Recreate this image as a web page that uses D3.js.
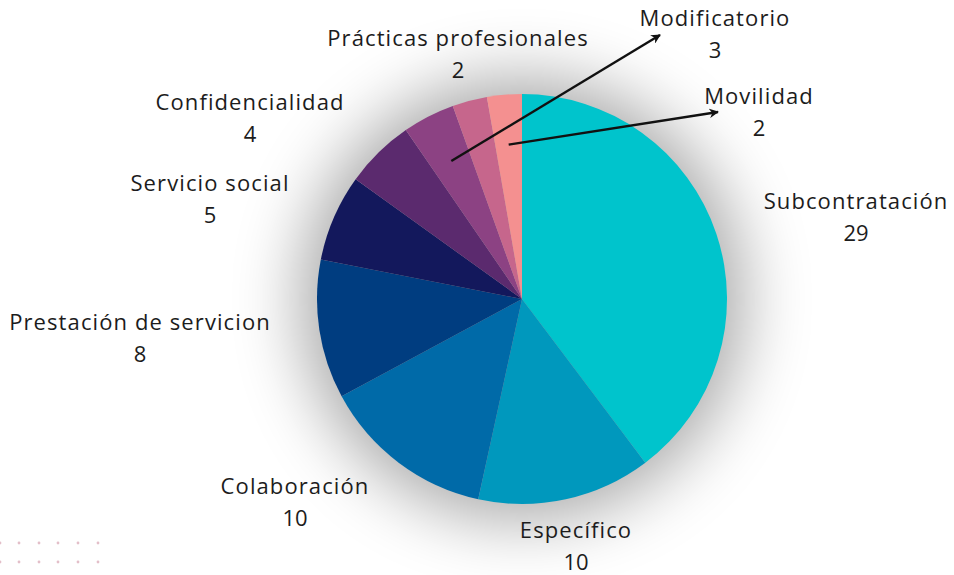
<!DOCTYPE html>
<html>
<head>
<meta charset="utf-8">
<script src="https://cdn.jsdelivr.net/npm/d3@7"></script>
<style>
  body { margin: 0; background: #ffffff; }
  text { font-family: "Open Sans", "Noto Sans", sans-serif; fill: #1c1c1c; }
</style>
</head>
<body>
<div class="chart"></div>
<script>
// Data
var categories = ["Subcontratación", "Específico", "Colaboración", "Prestación de servicion",
  "Servicio social", "Confidencialidad", "Modificatorio", "Prácticas profesionales", "Movilidad"];
var values = [29, 10, 10, 8, 5, 4, 3, 2, 2];
var colors = ["#00c4cc", "#0098bd", "#006aa8", "#003d80", "#13185c", "#5b2a6e", "#8c4283", "#c6668c", "#f49090"];

// Label placement (layout only)
var labelPos = {
  "Subcontratación": [856, 201],
  "Específico": [576, 530],
  "Colaboración": [295, 486],
  "Prestación de servicion": [140, 322],
  "Servicio social": [210, 183],
  "Confidencialidad": [250, 102],
  "Modificatorio": [715, 18],
  "Prácticas profesionales": [458, 38],
  "Movilidad": [759, 96]
};
// slices that get an arrow instead of sitting next to their label
var arrowTo = {
  "Modificatorio": [660, 35],
  "Movilidad": [718, 112]
};

var svgWidth = 954;
var svgHeight = 575;
var cx = 522, cy = 299, radius = 205;

var svg = d3.select(".chart")
  .append("svg")
  .attr("width", svgWidth)
  .attr("height", svgHeight);

var defs = svg.append("defs");
defs.append("filter")
  .attr("id", "shadow")
  .attr("x", "-50%").attr("y", "-50%")
  .attr("width", "200%").attr("height", "200%")
  .append("feGaussianBlur")
  .attr("stdDeviation", 34);

defs.append("marker")
  .attr("id", "arrow")
  .attr("viewBox", "0 0 10 10")
  .attr("refX", 9).attr("refY", 5)
  .attr("markerWidth", 4).attr("markerHeight", 4)
  .attr("orient", "auto")
  .append("path")
  .attr("d", "M0,0 L10,5 L0,10 L3,5 Z")
  .attr("fill", "#111");

// decorative dot grid bottom-left
var dotX = [0, 19, 39, 58, 78, 98];
var dotY = [543, 562];
dotY.forEach(function(y) {
  svg.selectAll(null)
    .data(dotX)
    .enter()
    .append("circle")
    .attr("cx", function(d) { return d; })
    .attr("cy", y)
    .attr("r", 1.4)
    .attr("fill", "#e3bfc9");
});

var chart = svg.append("g")
  .attr("transform", "translate(" + cx + "," + cy + ")");

// soft shadow behind the pie
chart.append("circle")
  .attr("r", radius + 16)
  .attr("fill", "#000")
  .attr("opacity", 0.34)
  .attr("filter", "url(#shadow)");

var pie = d3.pie().sort(null).value(function(d) { return d.value; });
var data = categories.map(function(c, i) {
  return { name: c, value: values[i], color: colors[i] };
});
var arcs = pie(data);

var arc = d3.arc().innerRadius(0).outerRadius(radius);
var innerArc = d3.arc().innerRadius(155).outerRadius(155);

chart.selectAll("path.slice")
  .data(arcs)
  .enter()
  .append("path")
  .attr("class", "slice")
  .attr("d", arc)
  .attr("fill", function(d) { return d.data.color; });

// arrows
chart.selectAll("line.arrow")
  .data(arcs.filter(function(d) { return arrowTo[d.data.name]; }))
  .enter()
  .append("line")
  .attr("class", "arrow")
  .attr("x1", function(d) { return innerArc.centroid(d)[0]; })
  .attr("y1", function(d) { return innerArc.centroid(d)[1]; })
  .attr("x2", function(d) { return arrowTo[d.data.name][0] - cx; })
  .attr("y2", function(d) { return arrowTo[d.data.name][1] - cy; })
  .attr("stroke", "#111")
  .attr("stroke-width", 2.4)
  .attr("marker-end", "url(#arrow)");

// labels
var labels = svg.selectAll("g.label")
  .data(arcs)
  .enter()
  .append("g")
  .attr("class", "label")
  .attr("transform", function(d) {
    var p = labelPos[d.data.name];
    return "translate(" + p[0] + "," + p[1] + ")";
  });

labels.append("text")
  .attr("text-anchor", "middle")
  .attr("dy", "0.35em")
  .style("font-size", "22px")
  .style("letter-spacing", "1.1px")
  .text(function(d) { return d.data.name; });

labels.append("text")
  .attr("text-anchor", "middle")
  .attr("y", 32)
  .attr("dy", "0.35em")
  .style("font-size", "22px")
  .text(function(d) { return d.data.value; });
</script>
</body>
</html>
